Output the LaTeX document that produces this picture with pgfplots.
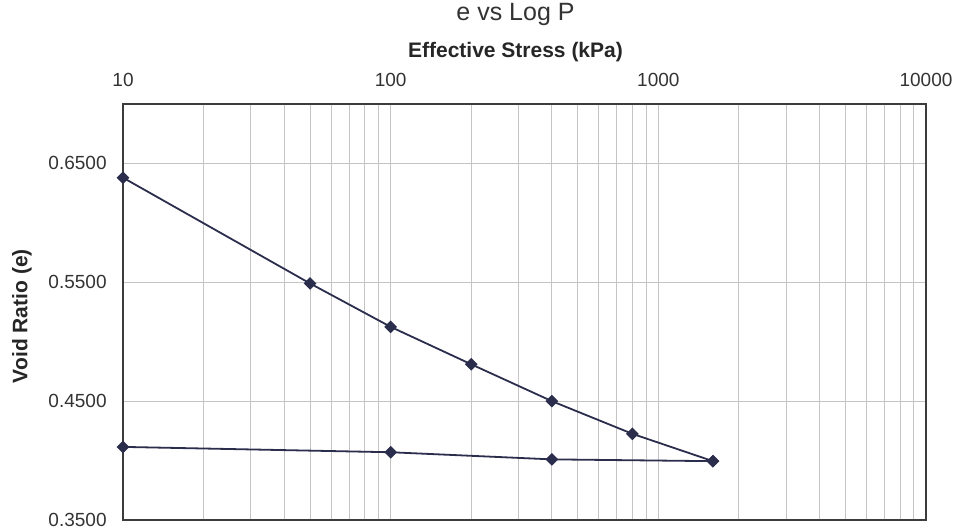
\documentclass[border=0pt]{standalone}
\usepackage{pgfplots}
\pgfplotsset{compat=1.18}
\usepackage{fontspec}
\setmainfont{Liberation Sans}
\definecolor{serie}{HTML}{2B2D4C}
\definecolor{gridc}{HTML}{C4C4C4}
\definecolor{frame}{HTML}{3C3C3C}
\begin{document}
\begin{tikzpicture}
\path[use as bounding box] (-61.5pt,-4pt) rectangle (416.5pt,260pt);
\begin{axis}[
  scale only axis,
  width=401.5pt, height=208pt,
  xmode=log,
  xmin=10, xmax=10000,
  ymin=0.35, ymax=0.70,
  xtick={10,100,1000,10000},
  xticklabels={10,100,1000,10000},
  minor xtick={20,30,40,50,60,70,80,90,200,300,400,500,600,700,800,900,2000,3000,4000,5000,6000,7000,8000,9000},
  ytick={0.35,0.45,0.55,0.65},
  yticklabels={0.3500,0.4500,0.5500,0.6500},
  xticklabel pos=upper,
  major tick length=0pt, minor tick length=0pt,
  xmajorgrids=true, xminorgrids=true, ymajorgrids=true,
  grid style={color=gridc, line width=0.5pt},
  minor grid style={color=gridc, line width=0.5pt},
  axis line style={color=frame, line width=1.2pt},
  tick label style={font=\fontsize{9.5}{11}\selectfont, color=black!80},
  /pgf/number format/assume math mode=true,
  xticklabel style={anchor=base, yshift=8.5pt, inner sep=0pt},
  yticklabel style={anchor=east, xshift=-8pt, inner sep=0pt},
  title={e vs Log P},
  title style={at={(0.5,1)}, anchor=base, yshift=35.5pt, xshift=-4.5pt, font=\fontsize{12.5}{15}\selectfont, color=black!80},
  xlabel={Effective Stress (kPa)},
  xlabel style={at={(axis description cs:0.5,1)}, anchor=base, yshift=23pt, xshift=-4.5pt, font=\fontsize{10.5}{12}\selectfont\bfseries, color=black!85},
  ylabel={Void Ratio (e)},
  ylabel style={at={(axis description cs:-0.1258,0.49)}, anchor=center, font=\fontsize{10.5}{12}\selectfont\bfseries, color=black!85},
]
\addplot[color=serie, line width=0.9pt, mark=square*, mark size=1.8pt, mark options={fill=serie, rotate=45}]
coordinates {(10,0.638) (50,0.549) (100,0.5125) (200,0.481) (400,0.450) (800,0.4225) (1600,0.3995)};
\addplot[color=serie, line width=0.9pt, mark=square*, mark size=1.8pt, mark options={fill=serie, rotate=45}]
coordinates {(1600,0.3995) (400,0.401) (100,0.407) (10,0.4115)};
\end{axis}
\end{tikzpicture}
\end{document}
